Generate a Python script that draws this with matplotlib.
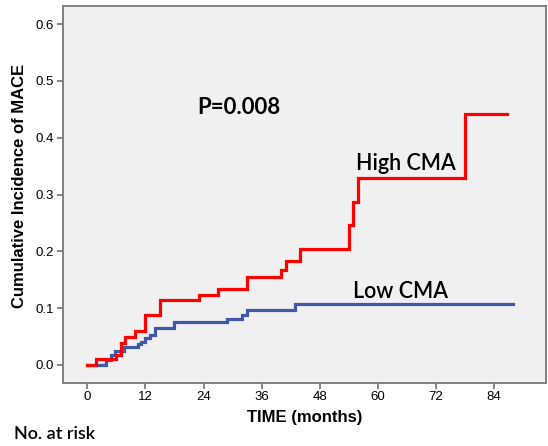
import matplotlib
matplotlib.use("Agg")
import matplotlib.pyplot as plt

# High CMA (red) step data
high_t = [0, 1.8, 5.9, 7.0, 7.7, 9.8, 11.8, 15.0, 23.0, 27.0, 32.9, 40.0, 41.0, 44.0, 54.0, 54.8, 56.0, 78.0, 86.8]
high_v = [0, 0.011, 0.018, 0.038, 0.049, 0.059, 0.088, 0.114, 0.123, 0.133, 0.154, 0.168, 0.183, 0.204, 0.246, 0.286, 0.329, 0.441, 0.441]

# Low CMA (blue) step data
low_t = [0, 3.9, 4.8, 5.8, 7.6, 10.5, 11.0, 11.9, 12.9, 13.9, 17.9, 28.9, 32.0, 32.9, 43.0, 87.9]
low_v = [0, 0.009, 0.018, 0.025, 0.032, 0.037, 0.041, 0.047, 0.053, 0.0645, 0.0755, 0.081, 0.088, 0.096, 0.107, 0.107]

x_ticks = [0, 12, 24, 36, 48, 60, 72, 84]
y_ticks = [0.0, 0.1, 0.2, 0.3, 0.4, 0.5, 0.6]

W, H = 548, 446
fig = plt.figure(figsize=(W / 100, H / 100), dpi=100)
ax = fig.add_axes([63 / W, 1 - 383 / H, (546 - 63) / W, (383 - 6) / H])
ax.set_facecolor("#F0F0F0")

ax.plot(low_t, low_v, drawstyle="steps-post", color="#3F58A8", lw=2.3, solid_joinstyle="miter")
ax.plot(high_t, high_v, drawstyle="steps-post", color="#FF0000", lw=2.3, solid_joinstyle="miter")

ax.set_xlim(-5.05, 94.8)
ax.set_ylim(-0.0317, 0.6317)
ax.set_xticks(x_ticks)
ax.set_yticks(y_ticks)
ax.set_xticklabels([str(v) for v in x_ticks])
ax.set_yticklabels([f"{v:.1f}" for v in y_ticks])

for s in ax.spines.values():
    s.set_color("#808080")
    s.set_linewidth(1.4)
ax.tick_params(axis="both", colors="#707070", length=4.5, width=1.2, labelcolor="black",
               labelsize=9.5)
ax.tick_params(axis="x", pad=1)
ax.tick_params(axis="y", pad=2)
for lab in ax.get_xticklabels() + ax.get_yticklabels():
    lab.set_family("Liberation Sans")

ax.set_xlabel("TIME (months)", family="Liberation Sans", fontweight="bold", fontsize=12)
ax.xaxis.set_label_coords(0.5, 1 - (417 - 6) / (383 - 6), transform=ax.transAxes)
ax.xaxis.label.set_va("center")
ax.set_ylabel("Cumulative Incidence of MACE", family="Liberation Sans", fontweight="bold", fontsize=12)
ax.yaxis.set_label_coords((20 - 63) / (546 - 63), 1 - (186 - 6) / (383 - 6))
ax.yaxis.label.set_va("center")


def ftext(x, y, s, **kw):
    fig.text(x / W, 1 - y / H, s, va="center", ha="left", family="Lato", **kw)


ftext(197, 108, "P=0.008", fontsize=16, fontweight="bold")
ftext(356, 163, "High CMA", fontsize=15.5, fontweight="semibold")
ftext(353, 292, "Low CMA", fontsize=15.5, fontweight="semibold")
ftext(14, 434, "No. at risk", fontsize=13, fontweight="semibold")

fig.savefig("out.png", dpi=100)
